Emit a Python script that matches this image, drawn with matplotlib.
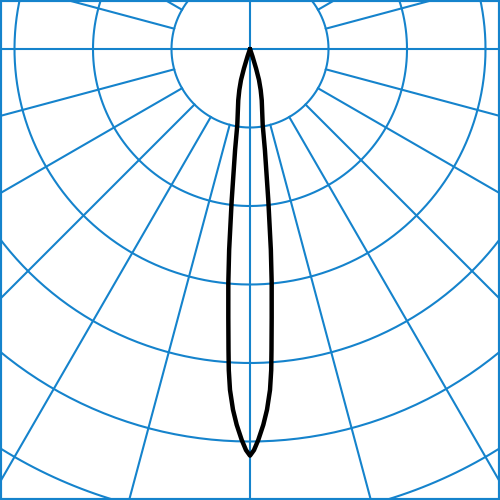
import numpy as np
import matplotlib
matplotlib.use('Agg')
import matplotlib.pyplot as plt

# beam angle from nadir (deg) and intensity in ring units (1 ring = 1 unit)
angles = [0, 0.57, 1.22, 2.03, 2.7, 3.36, 3.78, 4.09, 4.62, 5.3, 5.93, 6.9, 8.4, 9.5,
          12.9, 14.6, 16.2, 17.3, 18.5, 20, 90]
intensity = [5.18, 5.11, 4.98, 4.79, 4.60, 4.35, 4.10, 3.84, 3.43, 2.99, 2.57, 1.94, 1.30, 0.98,
             0.67, 0.54, 0.41, 0.26, 0.10, 0.0, 0.0]

rings = [1, 2, 3, 4, 5, 6, 7]
spoke_step = 15

BLUE = '#1583cc'
PX = 78.5  # pixels per ring

fig = plt.figure(figsize=(5, 5), dpi=100)
ax = fig.add_axes([0, 0, 1, 1])
ax.set_xlim(-250 / PX, 250 / PX)
ax.set_ylim(-451 / PX, 49 / PX)
ax.set_xticks([])
ax.set_yticks([])
for s in ax.spines.values():
    s.set_color(BLUE)
    s.set_linewidth(3)

t = np.linspace(0, 2 * np.pi, 400)
for r in rings:
    ax.plot(r * np.cos(t), r * np.sin(t), color=BLUE, lw=1.5)

for a in range(0, 360, spoke_step):
    rad = np.radians(a)
    r0 = 0 if a % 90 == 0 else rings[0]
    ax.plot([r0 * np.cos(rad), 10 * np.cos(rad)], [r0 * np.sin(rad), 10 * np.sin(rad)],
            color=BLUE, lw=1.5)

th = np.radians(np.array(angles))
r = np.array(intensity)
th_full = np.concatenate([-th[::-1], th[1:]])
r_full = np.concatenate([r[::-1], r[1:]])
ax.plot(r_full * np.sin(th_full), -r_full * np.cos(th_full), color='black', lw=3.2,
        solid_joinstyle='round', solid_capstyle='round')

fig.savefig('out.png', dpi=100)
